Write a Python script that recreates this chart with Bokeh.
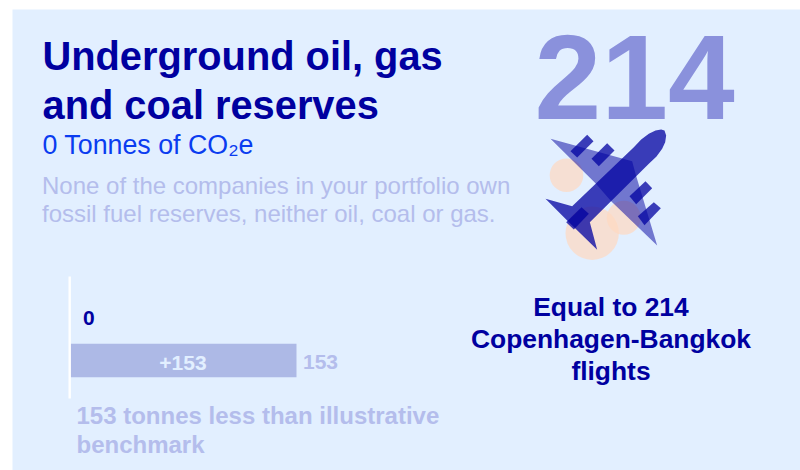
from bokeh.plotting import figure
from bokeh.models import Range1d
from bokeh.embed import file_html
from bokeh.resources import INLINE
from bokeh.core.properties import value

# --- data ---
row_names = ["portfolio", "benchmark"]
row_values = [0, 153]
difference = 153
flights = 214
title_lines = ["Underground oil, gas", "and coal reserves"]
subtitle = "0 Tonnes of CO\u2082e"
body_lines = ["None of the companies in your portfolio own",
              "fossil fuel reserves, neither oil, coal or gas."]
flight_lines = [f"Equal to {flights}", "Copenhagen-Bangkok", "flights"]
note_lines = [f"{difference} tonnes less than illustrative", "benchmark"]

NAVY = "#0000a0"
BLUE = "#0a3cf0"
PALE = "#b4bdec"
BAR = "#adb9e6"
BG = "#e2efff"
FONT = value("Liberation Sans")

W, H = 800, 470
x0_px, px_per_unit = 70.0, 226 / 153

p = figure(width=W, height=H, output_backend="svg", toolbar_location=None,
           x_range=Range1d((0 - x0_px) / px_per_unit, (800 - x0_px) / px_per_unit),
           y_range=Range1d(470, 0),
           x_axis_type=None, y_axis_type=None, min_border=0,
           outline_line_color=None, background_fill_color="white", border_fill_color="white")
p.grid.visible = False
p.extra_x_ranges = {"px": Range1d(0, 800)}


def txt(x, y, s, size, color, bold=False, align="left"):
    p.text([x], [y - 0.365 * size], text=[s], x_range_name="px", text_font=FONT,
           text_font_size=f"{size}px", text_color=color,
           text_font_style="bold" if bold else "normal",
           text_align=align, text_baseline="alphabetic")


# panel
p.quad(left=[12], right=[800], top=[9], bottom=[470], x_range_name="px",
       fill_color=BG, line_color=None)

# big number
txt(534, 120, str(flights), 120, "#8a91dc", True)

# plane icon
p.circle([566, 591.7, 623.3], [174.7, 232.7, 217.3], radius=[16.8, 26.7, 17],
         x_range_name="px", fill_color="#ffd8c1", fill_alpha=0.7, line_color=None)


def zx(v):
    return [520 + a / 3 for a in v]


def zy(v):
    return [10 + a / 3 for a in v]


wing_x, wing_y = [90, 335, 345, 410, 272, 225], [385, 452, 490, 705, 572, 518]
p.patch(zx(wing_x), zy(wing_y), x_range_name="px", fill_color=NAVY, fill_alpha=0.5, line_color=None)

body_x = [75, 155, 340, 362, 385, 405, 422, 432, 437, 434, 425, 408, 385, 208, 230, 140]
body_y = [565, 587, 410, 387, 370, 360, 357, 360, 375, 395, 415, 438, 460, 635, 718, 630]
p.patch(zx(body_x), zy(body_y), x_range_name="px", fill_color=NAVY, fill_alpha=0.75, line_color=None)

engines = [([150, 200, 219, 170], [422, 373, 392, 441]),
           ([213, 260, 282, 235], [445, 398, 420, 467]),
           ([327, 375, 395, 347], [557, 512, 533, 581]),
           ([352, 400, 421, 372], [617, 575, 593, 644]),
           ([137, 183, 205, 160], [635, 590, 610, 657])]
p.patches([zx(e[0]) for e in engines], [zy(e[1]) for e in engines], x_range_name="px",
          fill_color=NAVY, fill_alpha=0.75, line_color=None)

# title block
for y, s in zip([70, 119], title_lines):
    txt(42, y, s, 39.8, NAVY, True)
txt(42, 154, subtitle, 26.8, BLUE)
for y, s in zip([194, 222], body_lines):
    txt(41.5, y, s, 24, PALE)

# bars, drawn through the chart's own value scale
row_y = [318, 360]
bars = p.hbar(y=[row_y[1]], left=[0], right=[row_values[1]], height=33.7,
              fill_color=BAR, line_color=None)
p.segment([69.2], [276], [69.2], [398], x_range_name="px", line_color="white", line_width=2.4)

txt(82.5, 325, str(row_values[0]), 21, NAVY, True)
txt(182.5, 370, f"+{difference}", 21, "#e2efff", True, "center")
txt(302.5, 369, str(row_values[1]), 21, PALE, True)
for y, s in zip([424, 453], note_lines):
    txt(76, y, s, 24, PALE, True)

for y, s in zip([316, 348, 380], flight_lines):
    txt(610.5, y, s, 26.4, NAVY, True, "center")

open("out.html", "w").write(file_html(p, INLINE))
